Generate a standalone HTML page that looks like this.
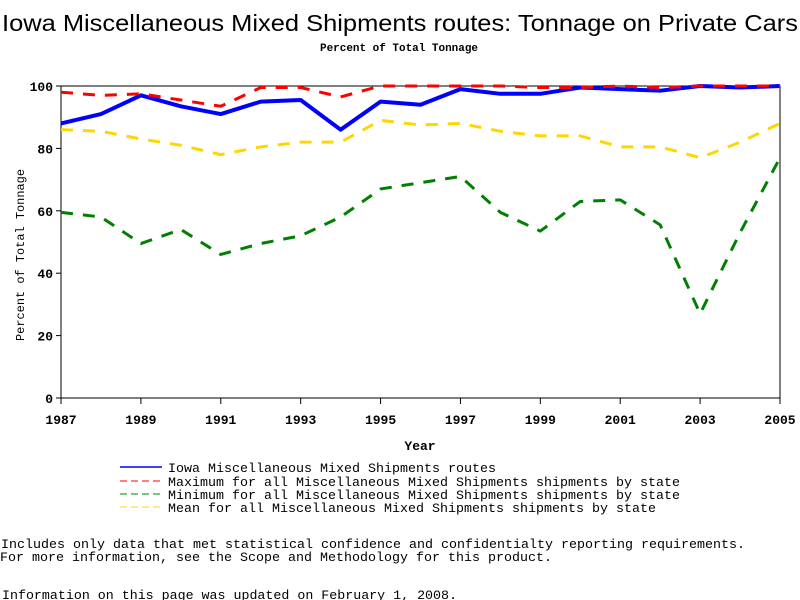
<!DOCTYPE html>
<html><head><meta charset="utf-8"><style>
body{margin:0;background:#fff;}
svg{display:block;font-family:"Liberation Mono",monospace;}
</style></head><body>
<svg width="800" height="600">
<text x="400" y="31" text-anchor="middle" font-family="Liberation Sans, sans-serif" font-size="23" textLength="796" lengthAdjust="spacingAndGlyphs">Iowa Miscellaneous Mixed Shipments routes: Tonnage on Private Cars</text>
<text x="399" y="51" text-anchor="middle" font-size="11" font-weight="bold" textLength="158" lengthAdjust="spacingAndGlyphs">Percent of Total Tonnage</text>
<g id="axes"></g>
<g id="series"></g>
<text x="24" y="255" transform="rotate(-90 24 255)" text-anchor="middle" font-size="12" textLength="172" lengthAdjust="spacingAndGlyphs">Percent of Total Tonnage</text>
<text x="420" y="450" text-anchor="middle" font-size="13" font-weight="bold">Year</text>
<g font-size="13">
<line x1="120" y1="467" x2="162" y2="467" stroke="#0000ff" stroke-width="1.5"/>
<text x="168" y="472" textLength="328" lengthAdjust="spacingAndGlyphs">Iowa Miscellaneous Mixed Shipments routes</text>
<line x1="120" y1="481" x2="162" y2="481" stroke="#ff0000" stroke-dasharray="7,4"/>
<text x="168" y="486" textLength="512" lengthAdjust="spacingAndGlyphs">Maximum for all Miscellaneous Mixed Shipments shipments by state</text>
<line x1="120" y1="494" x2="162" y2="494" stroke="#008000" stroke-dasharray="7,4"/>
<text x="168" y="499" textLength="512" lengthAdjust="spacingAndGlyphs">Minimum for all Miscellaneous Mixed Shipments shipments by state</text>
<line x1="120" y1="507" x2="162" y2="507" stroke="#ffd700" stroke-dasharray="7,4"/>
<text x="168" y="512" textLength="488" lengthAdjust="spacingAndGlyphs">Mean for all Miscellaneous Mixed Shipments shipments by state</text>
</g>
<g font-size="13">
<text x="1" y="548" textLength="744" lengthAdjust="spacingAndGlyphs">Includes only data that met statistical confidence and confidentialty reporting requirements.</text>
<text x="0" y="561" textLength="552" lengthAdjust="spacingAndGlyphs">For more information, see the Scope and Methodology for this product.</text>
<text x="2" y="599" textLength="455" lengthAdjust="spacingAndGlyphs">Information on this page was updated on February 1, 2008.</text>
</g>
</svg>
<script>
const years=[1987,1988,1989,1990,1991,1992,1993,1994,1995,1996,1997,1998,1999,2000,2001,2002,2003,2004,2005];
const iowa=[88,91,97,93.5,91,95,95.5,86,95,94,99,97.5,97.5,99.5,99,98.5,100,99.5,100];
const maxVals=[98,97,97.5,95.5,93.5,99.5,99.5,96.5,100,100,100,100,99.5,99.5,100,99.5,100,100,100];
const minVals=[59.5,58,49.5,54,46,49.5,52,58,67,69,71,59.5,53.5,63,63.5,55.5,27,53,77];
const meanVals=[86,85.5,83,81,78,80.5,82,82,89,87.5,88,85.5,84,84,80.5,80.5,77,82,88];
const xTicks=[1987,1989,1991,1993,1995,1997,1999,2001,2003,2005];
const yTicks=[0,20,40,60,80,100];
const NS="http://www.w3.org/2000/svg";
const X0=61,X1=780,Y0=398,Y1=86;
const xs=v=>X0+(v-1987)/(2005-1987)*(X1-X0);
const ys=v=>Y0-v/100*(Y0-Y1);
function mk(tag,attrs,parent){const e=document.createElementNS(NS,tag);for(const k in attrs)e.setAttribute(k,attrs[k]);parent.appendChild(e);return e;}
const ax=document.getElementById('axes');
const frame=mk('rect',{x:X0,y:Y1,width:X1-X0,height:Y0-Y1,fill:'none',stroke:'#000','stroke-width':1},ax);


xTicks.forEach(t=>{
 const l=mk('line',{x1:xs(t),x2:xs(t),y1:Y0,y2:Y0+6,stroke:'#000'},ax);
 
 
 const tx=mk('text',{x:xs(t),y:Y0+26,'text-anchor':'middle','font-size':13,'font-weight':'bold'},ax);
 tx.textContent=t;
 
 
});
yTicks.forEach(t=>{
 const l=mk('line',{x1:X0-5,x2:X0,y1:ys(t),y2:ys(t),stroke:'#000'},ax);
 
 
 const tx=mk('text',{x:X0-8,y:ys(t)+5,'text-anchor':'end','font-size':13,'font-weight':'bold'},ax);
 tx.textContent=t;
 
 
});
const sg=document.getElementById('series');
function line(vals,color,w,dash,name){
 const p=mk('polyline',{points:vals.map((v,i)=>xs(years[i])+','+ys(v)).join(' '),fill:'none',stroke:color,'stroke-width':w,'stroke-linejoin':'round'},sg);
 if(dash)p.setAttribute('stroke-dasharray',dash);
 
 
}
line(meanVals,'#ffd700',3,'12,10','series-mean');
line(minVals,'#008000',3,'12,10','series-min');
line(iowa,'#0000ff',4,null,'series-iowa');
line(maxVals,'#ff0000',3,'12,10','series-max');
</script>
</body></html>
